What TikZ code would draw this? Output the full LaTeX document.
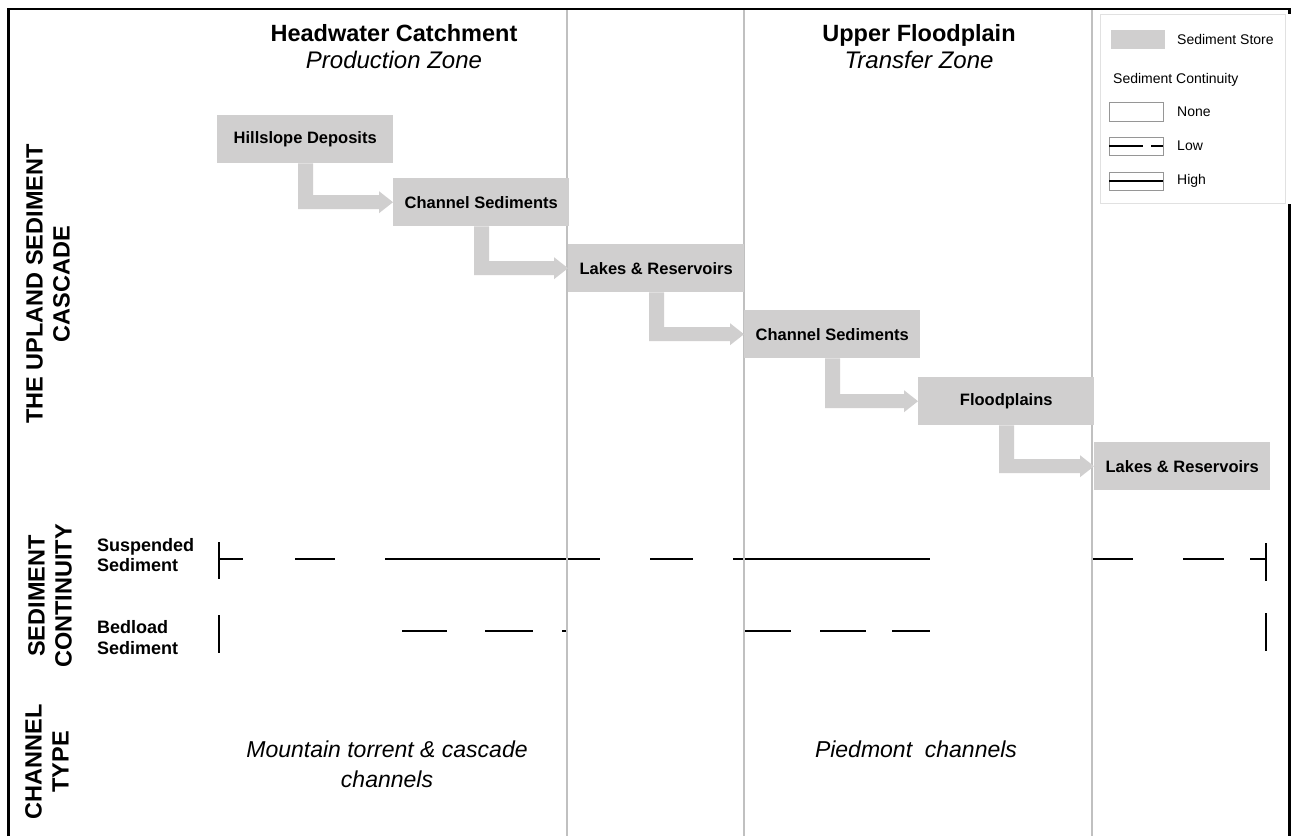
\documentclass[tikz,border=0pt]{standalone}
\usepackage{fontspec}
\setmainfont{Liberation Sans}
\definecolor{boxgray}{RGB}{208,207,207}
\definecolor{colgray}{RGB}{192,192,192}
\definecolor{leggray}{RGB}{225,225,225}
\definecolor{legedge}{RGB}{150,150,150}
\newcommand\cascadearrow[2]{%
  \fill[flow] ([xshift=81pt]#1.south west) -- ([xshift=96pt]#1.south west)
    |- ([xshift=-14pt,yshift=7pt]#2.west) -- ([xshift=-14pt,yshift=11pt]#2.west)
    -- (#2.west) -- ([xshift=-14pt,yshift=-11pt]#2.west)
    -- ([xshift=-14pt,yshift=-7pt]#2.west) -| ([xshift=81pt]#1.south west) -- cycle;}
\begin{document}
\begin{tikzpicture}[x=1pt,y=-1pt,
  store/.style={fill=boxgray, minimum width=176pt, minimum height=48pt, inner sep=0pt, anchor=north west, font=\fontsize{16.5}{19}\selectfont\bfseries},
  flow/.style={fill=boxgray},
  colline/.style={draw=colgray, line width=2pt},
  frameline/.style={line width=2.5pt, black},
  cont/.style={line width=2pt, black},
  hdr/.style={anchor=base, inner sep=0pt, font=\fontsize{23.5}{27}\selectfont\bfseries},
  zone/.style={anchor=base, inner sep=0pt, font=\fontsize{24}{27}\selectfont\itshape},
  side/.style={rotate=90, align=center, inner sep=0pt, font=\fontsize{23.5}{27}\selectfont\bfseries},
  rowlab/.style={align=left, anchor=west, inner sep=0pt, font=\fontsize{18}{20.5}\selectfont\bfseries},
  ctype/.style={align=center, inner sep=0pt, font=\fontsize{23}{30}\selectfont\itshape},
  legtxt/.style={anchor=west, inner sep=0pt, font=\fontsize{14}{16}\selectfont},
]
\useasboundingbox (0,0) rectangle (1292,836);
\fill[white] (0,0) rectangle (1292,836);

% sediment continuity lines
\draw[cont] (219,542) -- (219,579);
\draw[cont] (219,559) -- (243,559);
\draw[cont] (295,559) -- (335,559);
\draw[cont] (385,559) -- (600,559);
\draw[cont] (650,559) -- (693,559);
\draw[cont] (733,559) -- (930,559);
\draw[cont] (1092,559) -- (1133,559);
\draw[cont] (1183,559) -- (1224,559);
\draw[cont] (1250,559) -- (1266,559);
\draw[cont] (1266,543) -- (1266,581);

\draw[cont] (219,615) -- (219,653);
\draw[cont] (402,631) -- (447,631);
\draw[cont] (485,631) -- (533,631);
\draw[cont] (562,631) -- (567,631);
\draw[cont] (743,631) -- (791,631);
\draw[cont] (820,631) -- (866,631);
\draw[cont] (892,631) -- (930,631);
\draw[cont] (1266,613) -- (1266,651);

% column lines
\draw[colline] (567,9) -- (567,836);
\draw[colline] (744,9) -- (744,836);
\draw[colline] (1092,9) -- (1092,836);

% frame
\draw[frameline] (8.5,836) -- (8.5,9) -- (1289.5,9) -- (1289.5,836);

% headers
\node[hdr] (hw) at (394,41.7) {Headwater Catchment};
\node[zone] (pz) at (394,68) {Production Zone};
\node[hdr] (uf) at (919,41.7) {Upper Floodplain};
\node[zone] (tz) at (919,68) {Transfer Zone};

% side labels
\node[side] (cascade) at (48,284) {THE UPLAND SEDIMENT\\CASCADE};
\node[side] (contlab) at (50,596) {SEDIMENT\\CONTINUITY};
\node[side] (ctlab) at (47,762) {CHANNEL\\TYPE};

\node[rowlab] (susp) at (97,555) {Suspended\\Sediment};
\node[rowlab] (bed) at (97,637.5) {Bedload\\Sediment};

% sediment stores
\node[store] (s1) at (217,115) {Hillslope Deposits};
\node[store] (s2) at (393,178) {Channel Sediments};
\node[store] (s3) at (568,244) {Lakes \& Reservoirs};
\node[store] (s4) at (744,310) {Channel Sediments};
\node[store] (s5) at (918,377) {Floodplains};
\node[store] (s6) at (1094,442) {Lakes \& Reservoirs};

\cascadearrow{s1}{s2}
\cascadearrow{s2}{s3}
\cascadearrow{s3}{s4}
\cascadearrow{s4}{s5}
\cascadearrow{s5}{s6}

% channel type
\node[ctype] (mt) at (387,764) {Mountain torrent \& cascade\\channels};
\node[ctype] (pc) at (916,749) {Piedmont\ \ channels};

% legend
\fill[white] (1098,14) rectangle (1292,204);
\draw[leggray, line width=1pt] (1100,14) rectangle (1285,203);
\fill[boxgray] (1111,30) rectangle (1165,49);
\node[legtxt] (lstore) at (1177,39.5) {Sediment Store};
\node[legtxt] (lcont) at (1113,80) {Sediment Continuity};
\draw[legedge, line width=0.8pt] (1109,102) rectangle (1163,121);
\node[legtxt] (lnone) at (1177,112) {None};
\draw[legedge, line width=0.8pt] (1109,137) rectangle (1163,155);
\draw[black, line width=1.2pt] (1109,146) -- (1143,146);
\draw[black, line width=1.2pt] (1151,146) -- (1163,146);
\node[legtxt] (llow) at (1177,146) {Low};
\draw[legedge, line width=0.8pt] (1109,172) rectangle (1163,190);
\draw[black, line width=1.2pt] (1109,181) -- (1163,181);
\node[legtxt] (lhigh) at (1177,181) {High};
\end{tikzpicture}
\end{document}
